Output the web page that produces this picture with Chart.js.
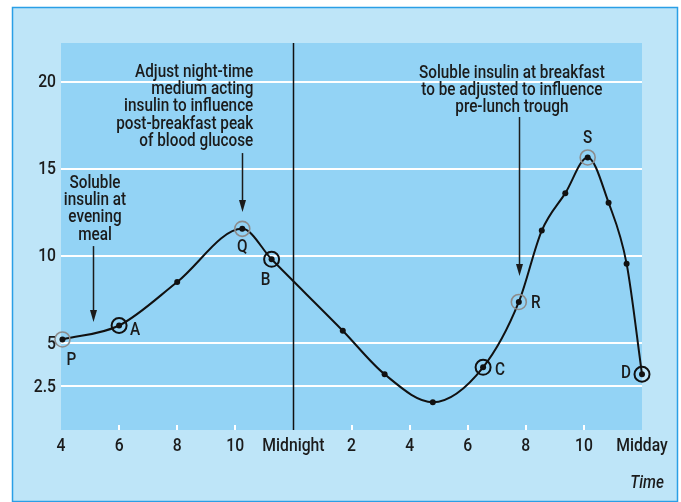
<!DOCTYPE html>
<html>
<head>
<meta charset="utf-8">
<script src="https://cdn.jsdelivr.net/npm/chart.js@4"></script>
<style>
  html, body { margin: 0; padding: 0; background: #fff; }
  canvas { display: block; }
</style>
</head>
<body>
<canvas id="glucose-chart" width="681" height="502"></canvas>
<script>
/* Blood glucose over the day, with insulin adjustment notes */

// Hours since midnight of day 1 (16 = 4 pm, 24 = midnight, 36 = midday)
const hours   = [16.05, 18, 20, 22.24, 23.25, 25.7, 27.14, 28.8, 30.53, 31.76, 32.55, 33.36, 34.13, 34.85, 35.47, 36];
const glucose = [5.2, 6.0, 8.5, 11.55, 9.8, 5.7, 3.2, 1.6, 3.6, 7.35, 11.45, 13.6, 15.65, 13.05, 9.55, 3.2];

const yTicks = [2.5, 5, 10, 15, 20];
const xTickLabels = ['4', '6', '8', '10', 'Midnight', '2', '4', '6', '8', '10', 'Midday'];

// Lettered points on the curve
const markIndex   = [0, 1, 3, 4, 8, 9, 12, 15];
const markLetters = ['P', 'A', 'Q', 'B', 'C', 'R', 'S', 'D'];
const markGrey    = [true, false, true, false, false, true, true, false];

// Notes and their arrows, in chart units
const noteTexts = [
  ['Soluble', 'insulin at', 'evening', 'meal'],
  ['Adjust night-time', 'medium acting', 'insulin to influence', 'post-breakfast peak', 'of blood glucose'],
  ['Soluble insulin at breakfast', 'to be adjusted to influence', 'pre-lunch trough'],
];
const noteX = [17.17, 22.62, 31.52];
const noteY = [14.18, 20.55, 20.49];
const arrowX    = [17.11, 22.24, 31.76];
const arrowFrom = [10.56, 15.9, 17.97];
const arrowTo   = [6.2, 12.51, 8.84];

const FONT = "Roboto, 'DejaVu Sans Condensed', sans-serif";
const INK = '#1b1b1b';
const NARROW = 0.85; // squeeze for the condensed look of the original lettering

const points = hours.map((h, i) => ({ x: h, y: glucose[i] }));
const rings = markIndex.map(i => points[i]);

// label placement relative to each lettered point (px)
const letterOffset = {
  P: [9, 21], A: [16, 5], Q: [0, 19], B: [-6, 21],
  C: [17, 3], R: [17, 2], S: [0, -19], D: [-16, -1],
};

function narrowText(ctx, text, px, py, align) {
  ctx.save();
  ctx.translate(px, py);
  ctx.scale(NARROW, 1);
  ctx.textAlign = align;
  ctx.fillText(text, 0, 0);
  ctx.restore();
}

const backdrop = {
  id: 'backdrop',
  beforeDraw(chart) {
    const { ctx, chartArea: a } = chart;
    ctx.save();
    ctx.fillStyle = '#ffffff';
    ctx.fillRect(0, 0, chart.width, chart.height);
    ctx.fillStyle = '#bee5f8';
    ctx.fillRect(12, 7, 666, 495);
    ctx.strokeStyle = '#2a9fe6';
    ctx.lineWidth = 1.5;
    ctx.strokeRect(12.5, 7.5, 665, 494);
    ctx.fillStyle = '#93d3f5';
    ctx.fillRect(a.left, a.top, a.right - a.left, a.bottom - a.top);
    ctx.restore();
  },
  beforeDatasetsDraw(chart) {
    const { ctx, chartArea: a, scales: { x } } = chart;
    ctx.save();
    // small white tick marks along the bottom edge
    ctx.strokeStyle = '#ffffff';
    ctx.lineWidth = 2;
    for (let v = 18; v < 36; v += 2) {
      if (v === 24) continue;
      const px = Math.round(x.getPixelForValue(v));
      ctx.beginPath();
      ctx.moveTo(px, a.bottom - 5);
      ctx.lineTo(px, a.bottom);
      ctx.stroke();
    }
    // midnight divider
    const mx = Math.round(x.getPixelForValue(24)) + 0.5;
    ctx.strokeStyle = '#111';
    ctx.lineWidth = 1.5;
    ctx.beginPath();
    ctx.moveTo(mx, a.top);
    ctx.lineTo(mx, a.bottom);
    ctx.stroke();
    ctx.restore();
  },
  afterDraw(chart) {
    const { ctx, chartArea: a, scales: { x, y } } = chart;
    ctx.save();
    ctx.fillStyle = INK;
    ctx.strokeStyle = INK;
    ctx.textBaseline = 'middle';

    // axis tick labels, condensed
    ctx.font = '500 18.5px ' + FONT;
    y.ticks.forEach(t => narrowText(ctx, String(t.value), a.left - 5, y.getPixelForValue(t.value) + 1, 'right'));
    x.ticks.forEach((t, i) => narrowText(ctx, xTickLabels[i], x.getPixelForValue(t.value), a.bottom + 16, 'center'));

    // notes
    ctx.font = '500 18px ' + FONT;
    noteTexts.forEach((lines, n) => {
      const align = n === 1 ? 'right' : 'center';
      const px = x.getPixelForValue(noteX[n]);
      const py = y.getPixelForValue(noteY[n]);
      lines.forEach((t, k) => narrowText(ctx, t, px, py + k * 17.4, align));
    });

    // arrows
    ctx.lineWidth = 1.5;
    arrowX.forEach((v, n) => {
      const px = Math.round(x.getPixelForValue(v)) + 0.5;
      const y0 = y.getPixelForValue(arrowFrom[n]);
      const y1 = y.getPixelForValue(arrowTo[n]);
      ctx.beginPath();
      ctx.moveTo(px, y0);
      ctx.lineTo(px, y1 - 8);
      ctx.stroke();
      ctx.beginPath();
      ctx.moveTo(px - 3.5, y1 - 12);
      ctx.lineTo(px + 3.5, y1 - 12);
      ctx.lineTo(px, y1);
      ctx.closePath();
      ctx.fill();
    });

    // point letters
    markLetters.forEach((L, n) => {
      const p = rings[n];
      const [dx, dy] = letterOffset[L];
      narrowText(ctx, L, x.getPixelForValue(p.x) + dx, y.getPixelForValue(p.y) + dy, 'center');
    });

    // axis title
    ctx.font = 'italic 500 18px ' + FONT;
    narrowText(ctx, 'Time', 664, 483, 'right');
    ctx.restore();
  },
};

Chart.defaults.font.family = FONT;
Chart.defaults.font.size = 16.5;
Chart.defaults.color = INK;

new Chart(document.getElementById('glucose-chart'), {
  type: 'scatter',
  data: {
    datasets: [
      {
        label: 'rings',
        data: rings,
        clip: false,
        showLine: false,
        pointRadius: 7.5,
        pointHoverRadius: 7.5,
        pointBorderWidth: markGrey.map(g => g ? 1.6 : 2),
        pointBackgroundColor: 'rgba(0,0,0,0)',
        pointBorderColor: markGrey.map(g => g ? '#8c8c8c' : '#111'),
      },
      {
        label: 'Blood glucose',
        data: points,
        clip: false,
        showLine: true,
        borderColor: '#111',
        borderWidth: 2,
        cubicInterpolationMode: 'monotone',
        pointRadius: 3,
        pointBackgroundColor: '#111',
        pointBorderColor: '#111',
        pointBorderWidth: 0,
      },
    ],
  },
  options: {
    responsive: false,
    animation: false,
    events: [],
    layout: { padding: { top: 43, right: 39, left: 0, bottom: 0 } },
    plugins: { legend: { display: false }, tooltip: { enabled: false } },
    scales: {
      x: {
        type: 'linear',
        min: 16,
        max: 36,
        afterFit: s => { s.height = 72; },
        afterBuildTicks: s => { s.ticks = xTickLabels.map((_, i) => ({ value: 16 + i * 2 })); },
        ticks: { display: false, autoSkip: false, maxRotation: 0 },
        grid: { display: false },
        border: { display: false },
      },
      y: {
        min: 0,
        max: 22.22,
        afterFit: s => { s.width = 61; },
        afterBuildTicks: s => { s.ticks = yTicks.map(v => ({ value: v })); },
        ticks: { display: false },
        grid: { color: '#ffffff', lineWidth: 2, drawTicks: false },
        border: { display: false },
      },
    },
  },
  plugins: [backdrop],
});
</script>
</body>
</html>
